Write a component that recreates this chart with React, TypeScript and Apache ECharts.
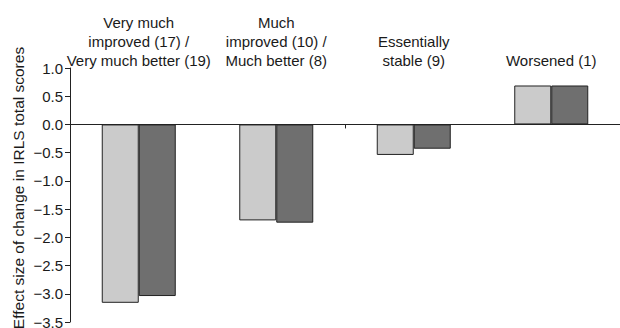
import React, { useEffect, useRef } from "react";
import * as echarts from "echarts";

const categories = [
  "Very much\nimproved (17) /\nVery much better (19)",
  "Much\nimproved (10) /\nMuch better (8)",
  "Essentially\nstable (9)",
  "Worsened (1)",
];
const clinicianValues = [-3.16, -1.7, -0.54, 0.69];
const patientValues = [-3.04, -1.74, -0.43, 0.69];
const yTicks = { min: -3.5, max: 1.0, interval: 0.5 };
const yAxisTitle = "Effect size of change in IRLS total scores";

const FONT = "'Liberation Sans', Arial, Helvetica, sans-serif";

export default function App() {
  const ref = useRef<HTMLDivElement>(null);
  useEffect(() => {
    if (!ref.current) return;
    const chart = echarts.init(ref.current, undefined, { renderer: "svg" });
    chart.setOption({
      animation: false,
      backgroundColor: "#ffffff",
      textStyle: { fontFamily: FONT },
      grid: {
        left: 70,
        right: 0,
        top: 68,
        bottom: 6,
        containLabel: false,
        outerBoundsMode: "none",
      },
      graphic: [
        {
          type: "text",
          x: 18,
          y: 188,
          rotation: Math.PI / 2,
          style: {
            text: yAxisTitle,
            fontSize: 15.5,
            fontFamily: FONT,
            fill: "#1a1a1a",
            align: "center",
            verticalAlign: "middle",
          },
        },
      ],
      xAxis: [
        {
          type: "category",
          data: categories,
          position: "bottom",
          axisLine: { onZero: true, lineStyle: { color: "#222", width: 1 } },
          axisTick: { show: true, length: 4, lineStyle: { color: "#222" } },
          axisLabel: { show: false },
        },
        {
          type: "category",
          data: categories,
          position: "top",
          axisLine: { show: false, onZero: false },
          axisTick: { show: false },
          axisLabel: {
            show: true,
            interval: 0,
            margin: -2,
            fontSize: 15,
            lineHeight: 19,
            color: "#1a1a1a",
            fontFamily: FONT,
            verticalAlign: "bottom",
          },
        },
      ],
      yAxis: {
        type: "value",
        min: yTicks.min,
        max: yTicks.max,
        interval: yTicks.interval,
        axisLine: { show: true, lineStyle: { color: "#222", width: 1 } },
        axisTick: { show: true, length: 5, lineStyle: { color: "#222" } },
        axisLabel: {
          fontSize: 15,
          color: "#1a1a1a",
          margin: 7,
          fontFamily: FONT,
          formatter: (v: number) => (v < 0 ? "\u2212" + Math.abs(v).toFixed(1) : v.toFixed(1)),
        },
        splitLine: { show: false },
      },
      series: [
        {
          name: "Clinician-rated (CGI-I)",
          type: "bar",
          xAxisIndex: 0,
          data: clinicianValues,
          barWidth: 37,
          barGap: "0%",
          itemStyle: { color: "#cbcbcb", borderColor: "#222", borderWidth: 1 },
        },
        {
          name: "Patient-rated (PGI)",
          type: "bar",
          xAxisIndex: 0,
          data: patientValues,
          barWidth: 37,
          barGap: "0%",
          itemStyle: { color: "#6f6f6f", borderColor: "#222", borderWidth: 1 },
        },
      ],
    });
    return () => chart.dispose();
  }, []);
  return (
    <div
      ref={ref}
      style={{ position: "fixed", left: 0, top: 0, width: 620, height: 328, background: "#fff" }}
    />
  );
}
